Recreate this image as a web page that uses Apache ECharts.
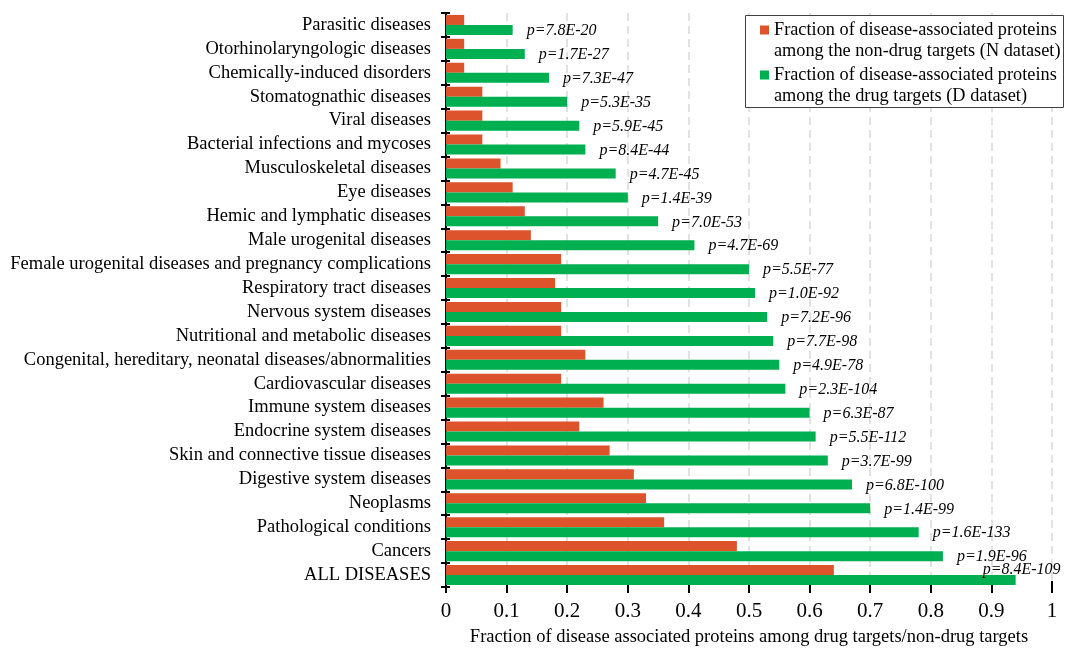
<!DOCTYPE html>
<html>
<head>
<meta charset="utf-8">
<script src="https://cdn.jsdelivr.net/npm/echarts@6/dist/echarts.min.js"></script>
<style>
  html, body { margin: 0; padding: 0; background: #fff; }
  #chart { width: 1065px; height: 652px; }
</style>
</head>
<body>
<div id="chart"></div>
<script>
// categories listed top to bottom
const categories = [
  'Parasitic diseases',
  'Otorhinolaryngologic diseases',
  'Chemically-induced disorders',
  'Stomatognathic diseases',
  'Viral diseases',
  'Bacterial infections and mycoses',
  'Musculoskeletal diseases',
  'Eye diseases',
  'Hemic and lymphatic diseases',
  'Male urogenital diseases',
  'Female urogenital diseases and pregnancy complications',
  'Respiratory tract diseases',
  'Nervous system diseases',
  'Nutritional and metabolic diseases',
  'Congenital, hereditary, neonatal diseases/abnormalities',
  'Cardiovascular diseases',
  'Immune system diseases',
  'Endocrine system diseases',
  'Skin and connective tissue diseases',
  'Digestive system diseases',
  'Neoplasms',
  'Pathological conditions',
  'Cancers',
  'ALL DISEASES'
];
const nonDrug = [0.03, 0.03, 0.03, 0.06, 0.06, 0.06, 0.09, 0.11, 0.13, 0.14, 0.19, 0.18,
                 0.19, 0.19, 0.23, 0.19, 0.26, 0.22, 0.27, 0.31, 0.33, 0.36, 0.48, 0.64];
const drug = [0.11, 0.13, 0.17, 0.20, 0.22, 0.23, 0.28, 0.30, 0.35, 0.41, 0.50, 0.51,
              0.53, 0.54, 0.55, 0.56, 0.60, 0.61, 0.63, 0.67, 0.70, 0.78, 0.82, 0.94];
const pvals = ['7.8E-20', '1.7E-27', '7.3E-47', '5.3E-35', '5.9E-45', '8.4E-44', '4.7E-45',
               '1.4E-39', '7.0E-53', '4.7E-69', '5.5E-77', '1.0E-92', '7.2E-96', '7.7E-98',
               '4.9E-78', '2.3E-104', '6.3E-87', '5.5E-112', '3.7E-99', '6.8E-100', '1.4E-99',
               '1.6E-133', '1.9E-96', '8.4E-109'];
const xTicks = [0, 0.1, 0.2, 0.3, 0.4, 0.5, 0.6, 0.7, 0.8, 0.9, 1];
const seriesNames = [
  'Fraction of disease-associated proteins\namong the non-drug targets (N dataset)',
  'Fraction of disease-associated proteins\namong the drug targets (D dataset)'
];

const font = '"Liberation Serif", "Times New Roman", serif';
const chart = echarts.init(document.getElementById('chart'));

// the last p-value sits above its bar, like in the original figure
const drugData = drug.map((v, i) => i === drug.length - 1
  ? { value: v, label: { offset: [-47, -10] } }
  : v);

const option = {
  backgroundColor: '#fff',
  animation: false,
  textStyle: { fontFamily: font },
  grid: { left: 446, right: 13, top: 13, bottom: 60 },
  // frame of the legend (white, hides the grid lines behind it)
  graphic: [{
    type: 'rect',
    left: 745,
    top: 15,
    z: 3,
    shape: { width: 318, height: 92 },
    style: { fill: '#fff', stroke: '#404040', lineWidth: 1 }
  }],
  legend: {
    orient: 'vertical',
    left: 760,
    top: -1.5,
    padding: 0,
    itemWidth: 9,
    itemHeight: 9,
    itemGap: -18,
    icon: 'rect',
    z: 5,
    // a blank first line keeps the marker level with the first text line
    formatter: name => ' \n' + name,
    textStyle: { fontFamily: font, fontSize: 18.3, color: '#000', lineHeight: 21 },
    data: seriesNames
  },
  xAxis: [
    {
      type: 'value',
      min: 0,
      max: 1,
      interval: 0.1,
      name: 'Fraction of disease associated proteins among drug targets/non-drug targets',
      nameLocation: 'middle',
      nameGap: 41,
      nameTextStyle: { fontFamily: font, fontSize: 18.5, color: '#000' },
      axisLine: { lineStyle: { color: '#000', width: 2 } },
      axisTick: { show: true, length: 6, lineStyle: { color: '#000', width: 2 } },
      axisLabel: {
        fontFamily: font, fontSize: 21, color: '#000', margin: 14,
        formatter: v => xTicks.includes(+v.toFixed(1)) ? String(+v.toFixed(1)) : ''
      },
      splitLine: { show: true, lineStyle: { color: '#d9d9d9', type: [8, 5], width: 1.5 } }
    },
    {
      type: 'value',
      min: 0,
      max: 1,
      interval: 0.1,
      position: 'bottom',
      axisLine: { show: false },
      axisTick: { show: true, inside: true, length: 6, lineStyle: { color: '#000', width: 2 } },
      axisLabel: { show: false },
      splitLine: { show: false }
    }
  ],
  yAxis: [
    {
      type: 'category',
      inverse: true,
      data: categories,
      axisLine: { lineStyle: { color: '#000', width: 2 } },
      axisTick: { show: true, length: 5, lineStyle: { color: '#000', width: 2 } },
      axisLabel: { interval: 0, fontFamily: font, fontSize: 18.5, color: '#000', margin: 15 }
    },
    {
      type: 'category',
      inverse: true,
      position: 'left',
      data: categories,
      axisLine: { show: false },
      axisTick: { show: true, inside: true, length: 4, lineStyle: { color: '#000', width: 2 } },
      axisLabel: { show: false }
    }
  ],
  series: [
    {
      name: seriesNames[0],
      type: 'bar',
      barGap: '0%',
      barCategoryGap: '16%',
      itemStyle: { color: '#DC532C' },
      data: nonDrug
    },
    {
      name: seriesNames[1],
      type: 'bar',
      barGap: '0%',
      barCategoryGap: '16%',
      itemStyle: { color: '#00B050' },
      label: {
        show: true,
        position: 'right',
        distance: 14,
        offset: [0, 1],
        fontFamily: font,
        fontStyle: 'italic',
        fontSize: 16,
        color: '#000',
        formatter: p => 'p=' + pvals[p.dataIndex]
      },
      data: drugData
    }
  ]
};
chart.setOption(option);
</script>
</body>
</html>
